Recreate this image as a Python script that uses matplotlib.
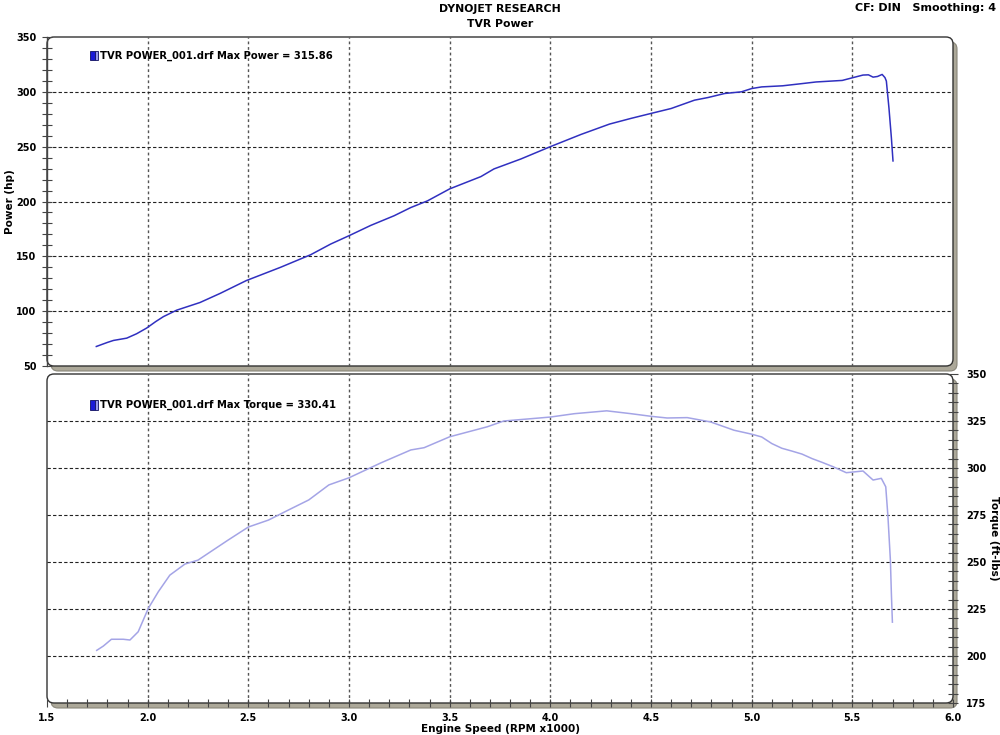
import matplotlib
matplotlib.use('Agg')
import matplotlib.pyplot as plt
from matplotlib.patches import FancyBboxPatch, Rectangle
from matplotlib.ticker import MultipleLocator

# Power curve (rpm x1000, hp)
power_rpm = [1.745, 1.80, 1.83, 1.896, 1.945, 1.995, 2.04, 2.078, 2.144, 2.26, 2.36, 2.49,
             2.66, 2.81, 2.909, 3.0, 3.108, 3.224, 3.307, 3.39, 3.5, 3.655, 3.72, 3.854,
             4.0, 4.153, 4.294, 4.401, 4.5, 4.6, 4.716, 4.783, 4.866, 4.949, 5.0, 5.05,
             5.154, 5.25, 5.32, 5.45, 5.5, 5.553, 5.58, 5.603, 5.625, 5.648, 5.662, 5.669,
             5.682, 5.694, 5.702]
power_hp = [67.8, 71.5, 73.3, 75.4, 79.4, 84.6, 90.5, 95.0, 100.9, 107.9, 116.2, 127.9,
            140.0, 151.5, 161.2, 168.8, 178.2, 187.0, 194.5, 200.6, 211.5, 222.7, 229.7, 238.8,
            250.0, 261.2, 270.6, 275.8, 280.3, 284.8, 292.4, 294.8, 298.5, 300.0, 303.0, 304.5,
            305.5, 307.5, 309.0, 310.4, 312.8, 315.3, 315.5, 313.4, 314.0, 315.86, 313.0, 309.8,
            285.0, 258.0, 237.0]

# Torque curve (rpm x1000, ft-lbs)
torque_rpm = [1.747, 1.78, 1.82, 1.879, 1.912, 1.953, 2.003, 2.053, 2.11, 2.185, 2.25, 2.4,
              2.5, 2.6, 2.7, 2.8, 2.85, 2.9, 3.0, 3.158, 3.307, 3.373, 3.5, 3.686, 3.769,
              4.0, 4.12, 4.28, 4.4, 4.5, 4.58, 4.68, 4.796, 4.912, 5.0, 5.05, 5.1, 5.15,
              5.2, 5.25, 5.3, 5.35, 5.404, 5.47, 5.553, 5.603, 5.644, 5.666, 5.677, 5.689,
              5.694, 5.699]
torque_ftlb = [203.0, 205.3, 208.9, 208.9, 208.5, 212.9, 225.3, 234.2, 243.0, 248.9, 251.0, 261.7,
               268.6, 272.3, 277.7, 283.0, 287.0, 291.0, 294.8, 302.7, 309.6, 310.8, 316.6, 321.9, 325.0,
               327.1, 328.9, 330.41, 328.9, 327.5, 326.6, 326.8, 324.5, 320.1, 318.0, 316.5, 313.0, 310.5,
               309.0, 307.4, 305.0, 303.0, 300.7, 297.5, 298.4, 293.6, 294.5, 290.0, 274.0, 251.0,
               233.0, 218.0]

power_ticks = [50, 100, 150, 200, 250, 300, 350]
torque_ticks = [175, 200, 225, 250, 275, 300, 325, 350]
rpm_ticks = [1.5, 2.0, 2.5, 3.0, 3.5, 4.0, 4.5, 5.0, 5.5, 6.0]

W, H = 1000, 735
fig = plt.figure(figsize=(10, 7.35), dpi=100)
fig.patch.set_facecolor('white')

top_box = [47, 37, 953, 366]     # pixel box: left, top, right, bottom
bot_box = [47, 374, 953, 703]


def fig_rect(box):
    l, t, r, b = box
    return [l / W, 1 - b / H, (r - l) / W, (b - t) / H]


def draw_frame(box):
    l, t, r, b = box
    # shadow
    sh = FancyBboxPatch(((l + 4) / W, 1 - (b + 5) / H), (r - l) / W, (b - t) / H,
                        boxstyle='round,pad=0,rounding_size=0.007', mutation_aspect=W / H,
                        transform=fig.transFigure, facecolor='#aca899', edgecolor='#8a877a',
                        linewidth=0.8, zorder=0)
    fig.add_artist(sh)
    fr = FancyBboxPatch((l / W, 1 - b / H), (r - l) / W, (b - t) / H,
                        boxstyle='round,pad=0,rounding_size=0.007', mutation_aspect=W / H,
                        transform=fig.transFigure, facecolor='white', edgecolor='#333333',
                        linewidth=1.0, zorder=0.5)
    fig.add_artist(fr)


draw_frame(top_box)
draw_frame(bot_box)

ax1 = fig.add_axes(fig_rect(top_box))
ax2 = fig.add_axes(fig_rect(bot_box))

hgrid_kw = dict(color='#222222', linestyle=(0, (3, 2)), linewidth=0.8)
vgrid_kw = dict(color='#555555', linestyle=(0, (2, 2)), linewidth=1.0)
tick_font = dict(family='DejaVu Sans', weight='bold', size=7)

for ax in (ax1, ax2):
    ax.set_zorder(2)
    ax.set_facecolor('none')
    ax.set_xlim(1.5, 6.0)
    for s in ax.spines.values():
        s.set_visible(False)
    for x in rpm_ticks[1:-1]:
        ax.axvline(x, **vgrid_kw, zorder=1)

# top panel: power
ax1.plot(power_rpm, power_hp, color='#3030c0', linewidth=1.1, zorder=3)
ax1.set_ylim(50, 350)
ax1.set_yticks(power_ticks)
ax1.yaxis.set_minor_locator(MultipleLocator(10))
for y in power_ticks[1:-1]:
    ax1.axhline(y, **hgrid_kw, zorder=1)
ax1.set_xticks([])
ax1.tick_params(axis='y', which='both', direction='inout', length=7, width=0.8,
                color='#444444', pad=4)
ax1.set_yticklabels([str(v) for v in power_ticks], fontdict=tick_font)
ax1.spines['left'].set_visible(True)
ax1.spines['left'].set_color('#444444')
ax1.spines['left'].set_linewidth(1.0)
ax1.set_ylabel('Power (hp)', fontdict=dict(family='DejaVu Sans', weight='bold', size=7.5))
ax1.yaxis.set_label_coords(-0.035, 0.5)

# bottom panel: torque
ax2.plot(torque_rpm, torque_ftlb, color='#a4a4e6', linewidth=1.1, zorder=3)
ax2.set_ylim(175, 350)
ax2.yaxis.tick_right()
ax2.yaxis.set_label_position('right')
ax2.set_yticks(torque_ticks)
ax2.yaxis.set_minor_locator(MultipleLocator(5))
for y in torque_ticks[1:-1]:
    ax2.axhline(y, **hgrid_kw, zorder=1)
ax2.tick_params(axis='y', which='both', direction='inout', length=7, width=0.8,
                color='#444444', pad=6)
ax2.set_yticklabels([str(v) for v in torque_ticks], fontdict=tick_font)
ax2.set_ylabel('Torque (ft-lbs)', fontdict=dict(family='DejaVu Sans', weight='bold', size=7.5),
               rotation=270, labelpad=9)
ax2.set_xticks(rpm_ticks)
ax2.xaxis.set_minor_locator(MultipleLocator(0.1))
ax2.tick_params(axis='x', which='both', direction='inout', length=6, width=0.8,
                color='#444444', pad=4)
ax2.set_xticklabels([f'{v:.1f}' for v in rpm_ticks], fontdict=tick_font)
ax2.set_xlabel('Engine Speed (RPM x1000)', fontdict=dict(family='DejaVu Sans', weight='bold', size=7.5),
               labelpad=1)


def legend_tag(ax, y, text):
    ax.add_patch(Rectangle((0.0475, y - 0.014), 0.0055, 0.028, transform=ax.transAxes,
                           facecolor='#1a1ad8', edgecolor='#101060', linewidth=0.6, zorder=5))
    ax.add_patch(Rectangle((0.053, y - 0.014), 0.0035, 0.028, transform=ax.transAxes,
                           facecolor='#9a9aee', edgecolor='#101060', linewidth=0.6, zorder=5))
    ax.text(0.058, y, text, transform=ax.transAxes, va='center', ha='left',
            family='DejaVu Sans', weight='bold', size=7.2, zorder=5)


legend_tag(ax1, 0.943, 'TVR POWER_001.drf Max Power = 315.86')
legend_tag(ax2, 0.906, 'TVR POWER_001.drf Max Torque = 330.41')

fig.text(0.5, 1 - 9 / H, 'DYNOJET RESEARCH', ha='center', va='center',
         family='DejaVu Sans', weight='bold', size=7.8)
fig.text(0.5, 1 - 24 / H, 'TVR Power', ha='center', va='center',
         family='DejaVu Sans', weight='bold', size=7.8)
fig.text(0.996, 1 - 8 / H, 'CF: DIN   Smoothing: 4', ha='right', va='center',
         family='DejaVu Sans', weight='bold', size=8)

fig.savefig('out.png', dpi=100, facecolor='white')
